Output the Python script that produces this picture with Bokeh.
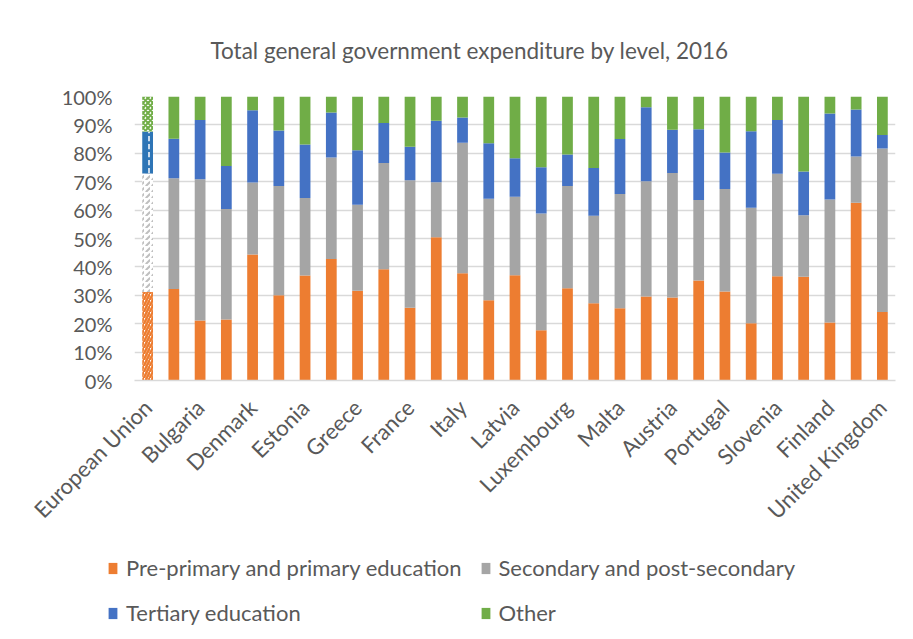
import math
from bokeh.plotting import figure
from bokeh.layouts import column
from bokeh.models import Range1d, FixedTicker, Legend, LegendItem, ColumnDataSource
from bokeh.embed import file_html
from bokeh.resources import INLINE

countries = ["European Union", "Belgium", "Bulgaria", "Czechia", "Denmark", "Germany",
             "Estonia", "Ireland", "Greece", "Spain", "France", "Croatia", "Italy",
             "Cyprus", "Latvia", "Lithuania", "Luxembourg", "Hungary", "Malta",
             "Netherlands", "Austria", "Poland", "Portugal", "Romania", "Slovenia",
             "Slovakia", "Finland", "Sweden", "United Kingdom"]

primary = [31.2, 32.2, 21.1, 21.5, 44.4, 30.0, 37.0, 42.8, 31.6, 39.2, 25.6, 50.4, 37.8,
           28.3, 37.1, 17.7, 32.5, 27.2, 25.4, 29.6, 29.2, 35.2, 31.3, 20.2, 36.7,
           36.5, 20.4, 62.6, 24.1]
secondary = [41.7, 39.0, 49.8, 38.9, 25.3, 38.5, 27.3, 35.7, 30.3, 37.4, 44.9, 19.4, 45.9,
             35.7, 27.6, 41.1, 36.0, 30.8, 40.3, 40.6, 43.9, 28.4, 36.1, 40.6, 36.1,
             21.7, 43.3, 16.3, 57.6]
tertiary = [14.8, 13.9, 20.8, 15.1, 25.5, 19.5, 18.8, 15.9, 19.2, 14.1, 11.8, 21.7, 8.9,
            19.5, 13.6, 16.3, 11.1, 16.8, 19.3, 26.0, 15.2, 24.9, 12.9, 27.0, 18.9,
            15.4, 30.3, 16.5, 4.7]
other = [12.3, 14.9, 8.3, 24.5, 4.8, 12.0, 16.9, 5.6, 18.9, 9.3, 17.7, 8.5, 7.4,
         16.5, 21.7, 24.9, 20.4, 25.2, 15.0, 3.8, 11.7, 11.5, 19.7, 12.2, 8.3,
         26.4, 6.0, 4.6, 13.6]

series = ["Pre-primary and primary education", "Secondary and post-secondary",
          "Tertiary education", "Other"]
colors = ["#ED7D31", "#A5A5A5", "#4472C4", "#70AD47"]
y_ticks = [0, 10, 20, 30, 40, 50, 60, 70, 80, 90, 100]
title = "Total general government expenditure by level, 2016"

FONT = "Lato"
TXT = "#595959"

n = len(countries)
xs = list(range(n))
keys = ["primary", "secondary", "tertiary", "other"]
data = {"x": xs[1:], "primary": primary[1:], "secondary": secondary[1:],
        "tertiary": tertiary[1:], "other": other[1:]}
eu = {"x": xs[:1], "primary": primary[:1], "secondary": secondary[:1],
      "tertiary": tertiary[:1], "other": other[:1]}

p = figure(width=913, height=540, output_backend="svg", toolbar_location=None,
           x_range=Range1d(-0.5, n - 0.5), y_range=Range1d(0, 100),
           min_border_left=134, min_border_right=18, min_border_top=96,
           min_border_bottom=160)
p.outline_line_color = None
p.background_fill_color = "white"
p.border_fill_color = "white"

rs = p.vbar_stack(keys, x="x", width=0.41, source=ColumnDataSource(data),
                  color=colors, line_color=None)

eu_styles = [
    dict(fill_color="white", hatch_color=colors[0], hatch_pattern="/", hatch_scale=6, hatch_weight=2.5),
    dict(fill_color="white", hatch_color="#BFBFBF", hatch_pattern=",", hatch_scale=6, hatch_weight=2),
    dict(fill_color="#2E75B6", hatch_color="white", hatch_pattern=":", hatch_scale=8, hatch_weight=1.5),
    dict(fill_color="white", hatch_color=colors[3], hatch_pattern="x", hatch_scale=5, hatch_weight=2),
]
bottom = 0
for k, st in zip(keys, eu_styles):
    top_vals = [bottom + v for v in eu[k]]
    p.vbar(x=eu["x"], bottom=[bottom] * len(eu["x"]), top=top_vals, width=0.41,
           line_color=None, **st)
    bottom = top_vals[0]

p.xgrid.grid_line_color = None
p.ygrid.grid_line_color = "#D9D9D9"
p.ygrid.grid_line_width = 1.3
p.ygrid.ticker = FixedTicker(ticks=y_ticks)

p.yaxis.ticker = FixedTicker(ticks=y_ticks)
p.yaxis.major_label_overrides = {t: f"{t}%" for t in y_ticks}
p.yaxis.axis_line_color = None
p.yaxis.major_tick_line_color = None
p.yaxis.minor_tick_line_color = None
p.yaxis.major_label_text_font = FONT
p.yaxis.major_label_text_font_size = "20px"
p.yaxis.major_label_text_color = TXT
p.yaxis.major_label_standoff = 16

p.xaxis.ticker = FixedTicker(ticks=xs[::2])
p.xaxis.major_label_overrides = {i: countries[i] for i in xs[::2]}
p.xaxis.axis_line_color = "#D9D9D9"
p.xaxis.axis_line_width = 1.3
p.xaxis.major_tick_line_color = None
p.xaxis.minor_tick_line_color = None
p.xaxis.major_label_orientation = math.pi / 4
p.xaxis.major_label_text_font = FONT
p.xaxis.major_label_text_font_size = "22px"
p.xaxis.major_label_text_color = TXT
p.xaxis.major_label_standoff = 17

p.title.text = title
p.title.align = "left"
p.title.offset = 76
p.title.text_font = FONT
p.title.text_font_size = "22.5px"
p.title.text_font_style = "normal"
p.title.text_color = TXT
p.title.standoff = 66

# legend figure (separate, so the legend can sit left of the bar frame)
lg = figure(width=913, height=99, output_backend="svg", toolbar_location=None,
            x_range=Range1d(0, 1), y_range=Range1d(0, 1),
            min_border=0, min_border_left=0, min_border_right=0,
            min_border_top=0, min_border_bottom=0)
lg.axis.visible = False
lg.grid.visible = False
lg.outline_line_color = None
lg.border_fill_color = "white"
swatches = [lg.vbar(x=[0.5], bottom=[0], top=[0], width=0.5, fill_color=c,
                    line_color=None) for c in colors]
items = [LegendItem(label=s, renderers=[r]) for s, r in zip(series, swatches)]
legend = Legend(items=items, orientation="horizontal", ncols=2, location=(107, 13),
                label_text_font=FONT, label_text_font_size="22px",
                label_text_color=TXT, glyph_width=11, glyph_height=14,
                label_standoff=8, label_height=27, spacing=18,
                border_line_color=None, background_fill_alpha=0, padding=0,
                margin=0)
lg.add_layout(legend, "center")

open("out.html", "w").write(file_html(column(p, column(lg)), INLINE))
